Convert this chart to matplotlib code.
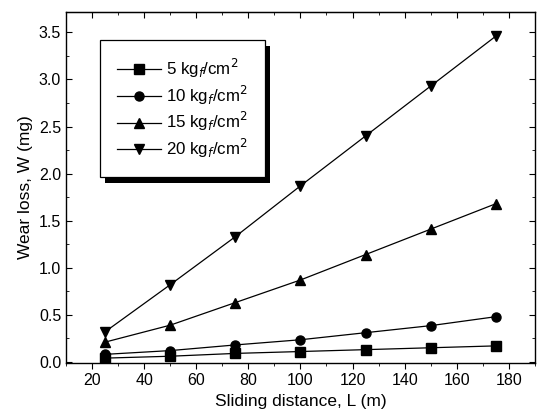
import matplotlib
matplotlib.use('Agg')
import matplotlib.pyplot as plt
from matplotlib.ticker import MultipleLocator
from matplotlib.patches import Rectangle

plt.rcParams['font.family'] = ['Liberation Sans', 'DejaVu Sans']

# sliding distance (m)
distance = [25, 50, 75, 100, 125, 150, 175]
# wear loss (mg) for each load
w5 = [0.04, 0.06, 0.09, 0.11, 0.13, 0.15, 0.17]
w10 = [0.08, 0.12, 0.18, 0.235, 0.31, 0.385, 0.48]
w15 = [0.21, 0.39, 0.63, 0.87, 1.14, 1.41, 1.68]
w20 = [0.32, 0.82, 1.33, 1.87, 2.40, 2.93, 3.46]
labels = ['5 kg$_f$/cm$^2$', '10 kg$_f$/cm$^2$', '15 kg$_f$/cm$^2$', '20 kg$_f$/cm$^2$']
markers = ['s', 'o', '^', 'v']

fig = plt.figure(figsize=(5.37, 4.18), dpi=100)
ax = fig.add_axes([0.123, 0.132, 0.873, 0.84])

for w, lab, m in zip([w5, w10, w15, w20], labels, markers):
    ax.plot(distance, w, color='black', lw=0.9, marker=m, markersize=6.5, label=lab)

ax.set_xlim(10, 190)
ax.set_ylim(-0.01, 3.72)
ax.xaxis.set_major_locator(MultipleLocator(20))
ax.xaxis.set_minor_locator(MultipleLocator(10))
ax.yaxis.set_major_locator(MultipleLocator(0.5))
ax.yaxis.set_minor_locator(MultipleLocator(0.25))
# bottom ticks point out, left/right in
ax.tick_params(axis='x', which='both', direction='out', labelsize=11.5)
ax.tick_params(axis='y', which='both', direction='in', right=True, labelsize=11.5)
ax.tick_params(which='major', length=4)
ax.tick_params(which='minor', length=2.5)
for s in ax.spines.values():
    s.set_linewidth(1.0)

# top ticks pointing inward
top = ax.secondary_xaxis('top')
top.xaxis.set_major_locator(MultipleLocator(20))
top.xaxis.set_minor_locator(MultipleLocator(10))
top.tick_params(which='both', direction='in', labeltop=False)
top.tick_params(which='major', length=4)
top.tick_params(which='minor', length=2.5)

ax.set_xlabel('Sliding distance, L (m)', fontsize=12.5)
ax.set_ylabel('Wear loss, W (mg)', fontsize=12.5)

leg = ax.legend(loc='upper left', bbox_to_anchor=(0.072, 0.92), fontsize=12.2,
                frameon=True, fancybox=False, edgecolor='black', framealpha=1,
                handlelength=2.6, borderpad=1.0, labelspacing=0.22, handletextpad=0.3,
                borderaxespad=0)
leg.get_frame().set_linewidth(0.9)

# solid black drop shadow behind the legend box
fig.canvas.draw()
bb = leg.get_window_extent().transformed(ax.transAxes.inverted())
dx = 5 / (ax.bbox.width)
dy = 6 / (ax.bbox.height)
ax.add_patch(Rectangle((bb.x0 + dx, bb.y0 - dy), bb.width, bb.height,
                       transform=ax.transAxes, facecolor='black', edgecolor='none',
                       zorder=4.9))

fig.savefig('out.png', dpi=100)
